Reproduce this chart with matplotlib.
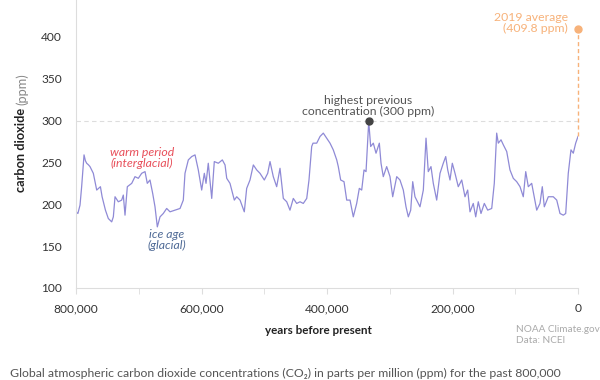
import numpy as np
import matplotlib
matplotlib.use("Agg")
import matplotlib.pyplot as plt
from matplotlib.ticker import FixedLocator, FuncFormatter

# CO2 record (thousands of years before present, ppm)
kyr = [800, 797, 793.6, 791, 788.5, 787.2, 785, 783, 780, 777.7, 772.4, 767, 761.1,
       758.4, 753.1, 748.5, 743.1, 740.5, 737.8, 732.6, 727.2, 724.6, 721.9, 718.2,
       711.2, 706, 700.7, 695.3, 690, 686.4, 682.1, 677.8, 674.1, 670.4, 666.1,
       660.9, 655.5, 650.2, 642.2, 634.2, 629, 626.3, 621, 615.6, 610.3, 605.1,
       599.7, 595.5, 592.8, 589.2, 583.7, 579.6, 573.2, 566.8, 562.5, 559.8, 554.6,
       551.9, 547.7, 543.9, 538.6, 531.8, 528, 522.7, 517.4, 512, 506.8, 499.9,
       494.5, 490.8, 485.6, 480.2, 474.9, 469.6, 464.2, 459, 453.7, 448.3, 443,
       437.8, 432.3, 428.7, 424.4, 422.3, 416.4, 411.1, 405.9, 400.5, 395.2, 390,
       384.5, 382, 378.2, 372.9, 368.6, 363.3, 358.1, 352.7, 348.5, 344.7, 341,
       337.8, 333.5, 330.4, 326.2, 321.9, 316.6, 313.9, 310.3, 304.9, 299.6, 295.3,
       288.9, 283.7, 278.4, 274.1, 270.4, 266.6, 263.4, 259.8, 254.5, 251.8, 246.5,
       242.2, 238.6, 234.3, 230.6, 225.2, 219.9, 214.7, 210.8, 207.6, 204, 200.3,
       196, 190.8, 185.3, 180.1, 175.8, 172.1, 166.9, 163, 158.9, 154.6, 149.3,
       143.9, 137.5, 133.4, 129.6, 127, 122.7, 119, 113.6, 108.4, 103.1, 97.7,
       92.4, 87.2, 83.3, 79.2, 73.8, 65.8, 60.6, 56.9, 53.7, 47.3, 39.4, 33.9,
       28.7, 23.4, 19.6, 15.5, 11.2, 7.5, 3.7, 0]
co2 = [191, 189, 199, 221, 245, 259, 252, 249, 247, 245, 237, 217, 221,
       209, 193, 183, 179, 185, 209, 203, 205, 211, 187, 221,
       225, 233, 231, 237, 239, 225, 229, 213, 197, 173, 185,
       189, 195, 191, 193, 195, 205, 237, 253, 257, 259, 241,
       217, 237, 225, 249, 207, 251, 249, 253, 247, 231, 225,
       217, 205, 209, 205, 191, 219, 229, 247, 241, 237, 229,
       237, 251, 233, 221, 243, 207, 203, 193, 207, 201, 203,
       201, 207, 229, 269, 273, 273, 281, 285, 279, 273, 265,
       253, 245, 229, 227, 205, 205, 185, 201, 219, 217, 241,
       239, 299, 269, 273, 261, 273, 249, 233, 245, 233, 209,
       233, 229, 217, 197, 185, 193, 227, 209, 201, 197, 217,
       279, 239, 245, 225, 205, 237, 249, 257, 241, 229, 249,
       237, 221, 229, 209, 217, 191, 201, 185, 203, 189, 201,
       193, 195, 225, 285, 273, 277, 271, 263, 241, 231, 227,
       221, 209, 239, 221, 225, 193, 201, 221, 197, 209, 209, 205,
       189, 187, 189, 237, 265, 261, 273, 281]

peak_year, peak_ppm = 333000, 300
now_year, now_ppm = 0, 409.8

years = np.array(kyr) * 1000
ppm = np.array(co2)

plt.rcParams['font.family'] = ['Lato', 'DejaVu Sans']

fig = plt.figure(figsize=(6, 3.8), dpi=100)
ax = fig.add_axes([76/600, 1 - 288/380, 502/600, 288/380])

ax.axhline(300, color='#dddddd', lw=0.8, ls=(0, (4, 3)), zorder=1)
ax.plot(years, ppm, color='#8f8ad6', lw=0.9, zorder=2)
ax.plot([now_year, now_year], [ppm[-1], now_ppm], color='#f7b27a', lw=1.0,
        ls=(0, (3, 2)), zorder=2, clip_on=False)
ax.plot(now_year, now_ppm, 'o', color='#f7b27a', ms=5, zorder=3, clip_on=False)
ax.plot(peak_year, peak_ppm, 'o', color='#444444', ms=5, zorder=3)

ax.set_xlim(800000, 0)
ax.set_ylim(100, 444)

ax.set_yticks([100, 150, 200, 250, 300, 350, 400])
ax.xaxis.set_major_locator(FixedLocator([800000, 600000, 400000, 200000, 0]))
ax.xaxis.set_minor_locator(FixedLocator([700000, 500000, 300000, 100000]))
ax.xaxis.set_major_formatter(FuncFormatter(lambda v, p: f"{int(v):,}"))
ax.tick_params(axis='y', length=0, pad=10, labelsize=8.6, labelcolor='#333333')
ax.tick_params(axis='x', which='both', length=4, color='#dddddd', pad=7,
               labelsize=8.6, labelcolor='#333333')

for s in ['top', 'right']:
    ax.spines[s].set_visible(False)
for s in ['left', 'bottom']:
    ax.spines[s].set_color('#dddddd')
    ax.spines[s].set_linewidth(0.8)

# annotations
ax.text(695000, 255, 'warm period\n(interglacial)', color='#e8505b', style='italic',
        fontsize=8.8, ha='center', va='center', linespacing=1.0)
ax.text(655000, 157, 'ice age\n(glacial)', color='#4f6a96', style='italic',
        fontsize=8.8, ha='center', va='center', linespacing=1.0)
ax.text(335000, 304, 'highest previous\nconcentration (300 ppm)', color='#555555',
        fontsize=8.8, ha='center', va='bottom', linespacing=1.0)
ax.text(16000, 416, '2019 average\n(409.8 ppm)', color='#f7b27a',
        fontsize=8.8, ha='right', va='center', linespacing=1.0)

# axis labels
fig.text(318/600, 1 - 330/380, 'years before present', fontsize=8.4, fontweight='bold',
         color='#222222', ha='center', va='center')
lab = fig.text(21/600, 1 - 192/380, 'carbon dioxide', rotation=90, fontsize=9.2,
               fontweight='bold', color='#222222', ha='center', va='bottom')
fig.canvas.draw()
bb = lab.get_window_extent()
fig.text(22/600, (bb.y1 + 3) / 380, '(ppm)', rotation=90, fontsize=9.2,
         color='#888888', ha='center', va='bottom')

fig.text(516/600, 1 - 335/380, 'NOAA Climate.gov\nData: NCEI', fontsize=7.2,
         color='#aaaaaa', ha='left', va='center', linespacing=1.15)

fig.text(10/600, 1 - 379/380,
         'Global atmospheric carbon dioxide concentrations (CO\u2082) in parts per million (ppm) for the past 800,000',
         fontsize=8.8, color='#555555', ha='left', va='bottom')

fig.savefig('out.png', dpi=100)
